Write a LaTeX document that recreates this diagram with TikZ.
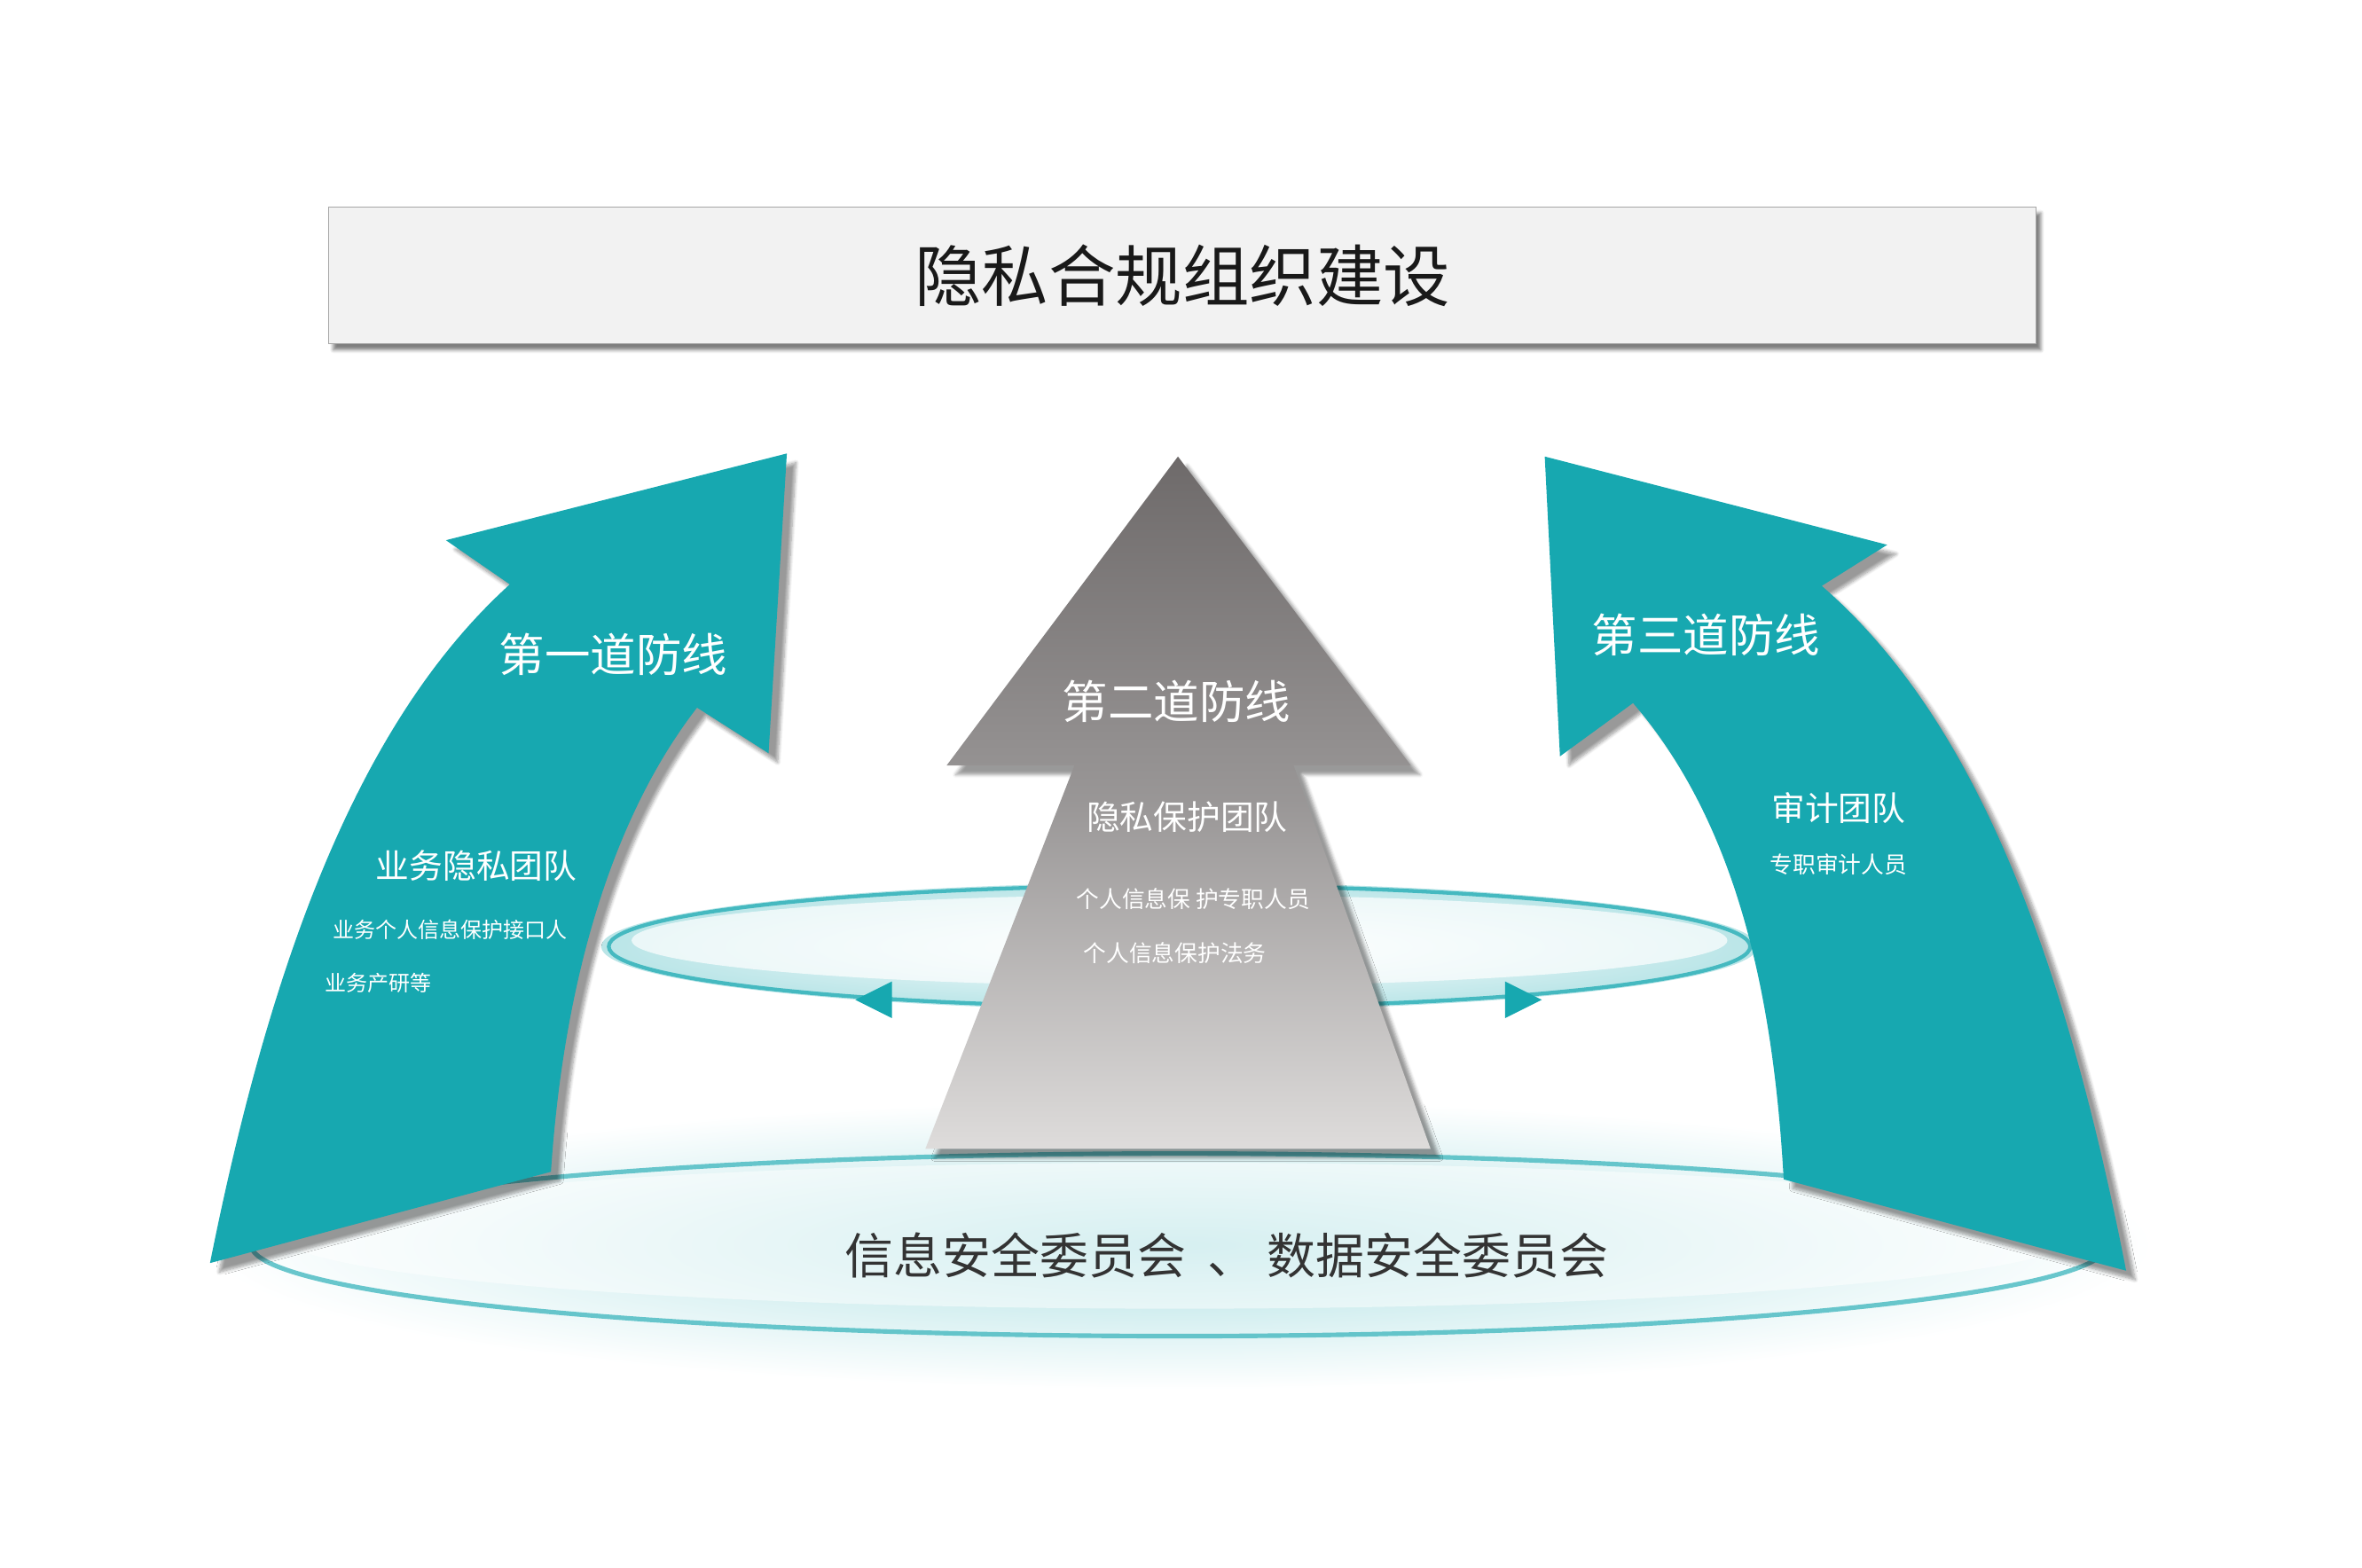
\documentclass[tikz,border=0pt]{standalone}
\usepackage{fontspec}
\setmainfont{Noto Sans CJK SC}
\usetikzlibrary{shadows.blur}
\definecolor{teal1}{HTML}{17A8B0}
\definecolor{gdark}{HTML}{6E6A6A}
\definecolor{glight}{HTML}{DEDCDB}
\tikzset{
  wt/.style={text=white,font=\fontsize{#1}{#1}\selectfont},
  tealarrow/.style={fill=teal1,draw=none,blur shadow={shadow xshift=6pt,shadow yshift=-6pt,shadow blur steps=8,shadow opacity=40}},
}
\begin{document}
\begin{tikzpicture}[x=1pt,y=-1pt]
\useasboundingbox (0,0) rectangle (1552,1030);
% bottom disc
\shade[inner color=teal1!35,outer color=white] (775,818) ellipse [x radius=640,y radius=95];
\draw[teal1!80,line width=3pt,opacity=0.8] (775,818) ellipse [x radius=610,y radius=60];
\fill[white,opacity=0.5] (775,812) ellipse [x radius=590,y radius=48];
% middle ring
\shade[inner color=white,outer color=teal1!30] (775,622) ellipse [x radius=380,y radius=42];
\fill[white,opacity=0.7] (775,618) ellipse [x radius=360,y radius=30];
\draw[teal1!80,line width=2.5pt] (775,622) ellipse [x radius=375,y radius=40];
% title box
\node (title) [draw=gray!70,fill=black!5,minimum width=1122pt,minimum height=90pt,inner sep=0,
  blur shadow={shadow xshift=3pt,shadow yshift=-4pt,shadow opacity=50},
  font=\fontsize{44}{44}\selectfont,text=black!90] at (777,181) {隐私合规组织建设};
% centre arrow
\shade[top color=gdark,bottom color=glight,middle color=gdark!70,blur shadow={shadow xshift=6pt,shadow yshift=-6pt,shadow opacity=40}]
  (774,300) -- (927,503) -- (850,503) -- (940,755) -- (608,755) -- (706,503) -- (622,503) -- cycle;
\node (l2) [wt=30] at (773,461) {第二道防线};
\node (l2a) [wt=22] at (780,537) {隐私保护团队};
\node (l2b) [wt=15] at (784,591) {个人信息保 护专职人员};
\node (l2c) [wt=15] at (772,626) {个人信息保护法务};
% ring arrowheads
\coordinate (ra) at (575,657); \coordinate (rb) at (1000,657);
\fill[teal1] (562,657) -- (586,645) -- (586,669) -- cycle;
\fill[teal1] (1013,657) -- (989,645) -- (989,669) -- cycle;
% left arrow
\path[tealarrow] (517,298) -- (505,495) -- (458,465)
  .. controls (400,540) and (370,650) .. (362,770) -- (138,830)
  .. controls (180,620) and (240,470) .. (335,384) -- (293,355) -- cycle;
% right arrow
\path[tealarrow] (1015,300) -- (1025,497) -- (1073,462)
  .. controls (1140,540) and (1165,650) .. (1172,775) -- (1397,835)
  .. controls (1355,620) and (1295,470) .. (1197,385) -- (1240,358) -- cycle;
\node (l1) [wt=30] at (403,430) {第一道防线};
\node (l1a) [wt=22] at (313,569) {业务隐私团队};
\node (l1b) [wt=14] at (296,611) {业务个人信息保护接口人};
\node (l1c) [wt=14,anchor=west] at (210,646) {业务产研等};
\node (l3) [wt=30] at (1121,417) {第三道防线};
\node (l3a) [wt=22] at (1208,531) {审计团队};
\node (l3b) [wt=15] at (1208,568) {专职审计人员};
% bottom text
\node (bt) [font=\fontsize{32}{32}\selectfont,text=black!80] at (806,825) {信息安全委员会 \ 、 数据安全委员会};
\end{tikzpicture}
\end{document}
